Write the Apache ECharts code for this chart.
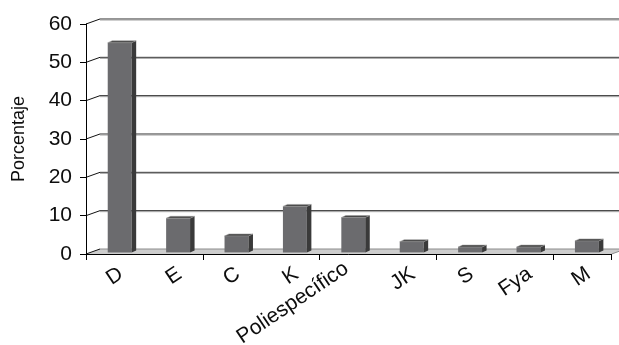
<!DOCTYPE html>
<html>
<head>
<meta charset="utf-8">
<title>Porcentaje por especificidad</title>
<script src="https://cdn.jsdelivr.net/npm/echarts@6/dist/echarts.min.js"></script>
<style>
  html, body { margin: 0; padding: 0; background: #fff; }
  #chart { width: 619px; height: 345px; }
</style>
</head>
<body>
<div id="chart"></div>
<script>
// Categories and their percentages
const categories = ['D', 'E', 'C', 'K', 'Poliespecífico', 'JK', 'S', 'Fya', 'M'];
const porcentaje = [54.7, 8.9, 4.3, 12.0, 9.1, 2.8, 1.4, 1.4, 3.0];
const yTicks = [0, 10, 20, 30, 40, 50, 60];

// Pseudo-3D geometry (pixels)
const WALL_DX = 14, WALL_DY = -5;      // depth of floor / back wall
const BAR_DX = 4.5, BAR_DY = -2;       // depth of each column
const BAR_SHIFT_X = 4.5, BAR_SHIFT_Y = -1.6; // column placed mid-floor
const BAR_RATIO = 0.41;

const FONT = '"Liberation Sans", Arial, sans-serif';
const LABEL_COLOR = '#0d0d0d';

const chart = echarts.init(document.getElementById('chart'), null, { renderer: 'canvas' });

// Back wall gridlines and floor plate
function renderBackdrop(params, api) {
  const cs = params.coordSys;
  const x = cs.x, w = cs.width;
  const children = [];
  const yb = api.coord([0, 0])[1];
  children.push({
    type: 'polygon',
    shape: { points: [[x, yb], [x + w, yb], [x + w + WALL_DX, yb + WALL_DY], [x + WALL_DX, yb + WALL_DY]] },
    style: { fill: '#cdcdcd' }
  });
  children.push({
    type: 'line',
    shape: { x1: x + WALL_DX, y1: yb + WALL_DY, x2: x + w + WALL_DX, y2: yb + WALL_DY },
    style: { stroke: '#8c8c8c', lineWidth: 1 }
  });
  children.push({
    type: 'line',
    shape: { x1: x + w, y1: yb, x2: x + w + WALL_DX, y2: yb + WALL_DY },
    style: { stroke: '#8c8c8c', lineWidth: 1 }
  });
  yTicks.forEach(function (t) {
    const y = api.coord([0, t])[1];
    children.push({
      type: 'line',
      shape: { x1: x, y1: y, x2: x + WALL_DX, y2: y + WALL_DY },
      style: { stroke: '#111', lineWidth: 1 }
    });
    if (t > 0) {
      children.push({
        type: 'line',
        shape: { x1: x + WALL_DX, y1: y + WALL_DY, x2: x + w + WALL_DX, y2: y + WALL_DY },
        style: { stroke: '#2a2a2a', lineWidth: 1 }
      });
      children.push({
        type: 'line',
        shape: { x1: x + WALL_DX, y1: y + WALL_DY + 1, x2: x + w + WALL_DX, y2: y + WALL_DY + 1 },
        style: { stroke: '#a0a0a0', lineWidth: 1 }
      });
    }
  });
  return { type: 'group', children: children };
}

// One shaded column: front, side and top faces
function renderColumn(params, api) {
  const idx = api.value(0);
  const top = api.coord([idx, api.value(1)]);
  const base = api.coord([idx, 0]);
  const band = api.size([1, 0])[0];
  const bw = band * BAR_RATIO;
  const cx = top[0] + BAR_SHIFT_X;
  const x0 = cx - bw / 2, x1 = cx + bw / 2;
  const yt = top[1] + BAR_SHIFT_Y;
  const yb = base[1] + BAR_SHIFT_Y;
  return {
    type: 'group',
    children: [
      {
        type: 'rect',
        shape: { x: x0, y: yt, width: bw, height: yb - yt },
        style: { fill: '#6b6b6e' }
      },
      {
        type: 'polygon',
        shape: { points: [[x1, yt], [x1 + BAR_DX, yt + BAR_DY], [x1 + BAR_DX, yb + BAR_DY], [x1, yb]] },
        style: { fill: '#3a3a3a' }
      },
      {
        type: 'polygon',
        shape: { points: [[x0, yt], [x1, yt], [x1 + BAR_DX, yt + BAR_DY], [x0 + BAR_DX, yt + BAR_DY]] },
        style: { fill: '#484848', stroke: '#9a9a9a', lineWidth: 0.5 }
      }
    ]
  };
}

const plotW = 525.6;

const option = {
  backgroundColor: '#ffffff',
  animation: false,
  grid: [
    { left: 86, top: 24, width: plotW, height: 230, containLabel: false, outerBoundsMode: 'none' },
    { left: 92, top: 24, width: plotW, height: 230, containLabel: false, outerBoundsMode: 'none' }
  ],
  xAxis: [
    {
      type: 'category',
      gridIndex: 0,
      data: categories,
      boundaryGap: true,
      z: 10,
      axisLine: { show: true, lineStyle: { color: '#000', width: 1 } },
      axisTick: { show: true, length: 6, alignWithLabel: false, lineStyle: { color: '#000' } },
      axisLabel: { show: false },
      splitLine: { show: false }
    },
    {
      type: 'category',
      gridIndex: 1,
      data: categories,
      boundaryGap: true,
      axisLine: { show: false },
      axisTick: { show: false },
      splitLine: { show: false },
      axisLabel: {
        show: true,
        interval: 0,
        rotate: 34,
        margin: 18,
        fontSize: 21,
        color: LABEL_COLOR,
        fontFamily: FONT,
        // long names sit a little higher and further left
        formatter: function (v) { return v.length > 6 ? '{largo|' + v + '}' : v; },
        rich: {
          largo: { fontSize: 21, fontFamily: FONT, color: LABEL_COLOR, padding: [0, 4, 18, 0] }
        }
      }
    }
  ],
  yAxis: [
    {
      type: 'value',
      gridIndex: 0,
      min: 0,
      max: 60,
      interval: 10,
      z: 10,
      axisLine: { show: true, lineStyle: { color: '#000', width: 1 } },
      axisTick: { show: true, length: 6, lineStyle: { color: '#000' } },
      splitLine: { show: false },
      axisLabel: { fontSize: 21, color: LABEL_COLOR, margin: 14, fontFamily: FONT },
      name: 'Porcentaje',
      nameLocation: 'middle',
      nameGap: 58,
      nameTextStyle: { fontSize: 18, color: LABEL_COLOR, fontFamily: FONT }
    },
    {
      type: 'value',
      gridIndex: 1,
      min: 0,
      max: 60,
      show: false
    }
  ],
  series: [
    {
      type: 'custom',
      name: 'fondo',
      xAxisIndex: 0,
      yAxisIndex: 0,
      z: 1,
      silent: true,
      renderItem: renderBackdrop,
      data: [[0, 0]]
    },
    {
      type: 'custom',
      name: 'Porcentaje',
      xAxisIndex: 0,
      yAxisIndex: 0,
      z: 3,
      renderItem: renderColumn,
      encode: { x: 0, y: 1 },
      data: porcentaje.map(function (v, i) { return [i, v]; })
    }
  ]
};

chart.setOption(option);
</script>
</body>
</html>
